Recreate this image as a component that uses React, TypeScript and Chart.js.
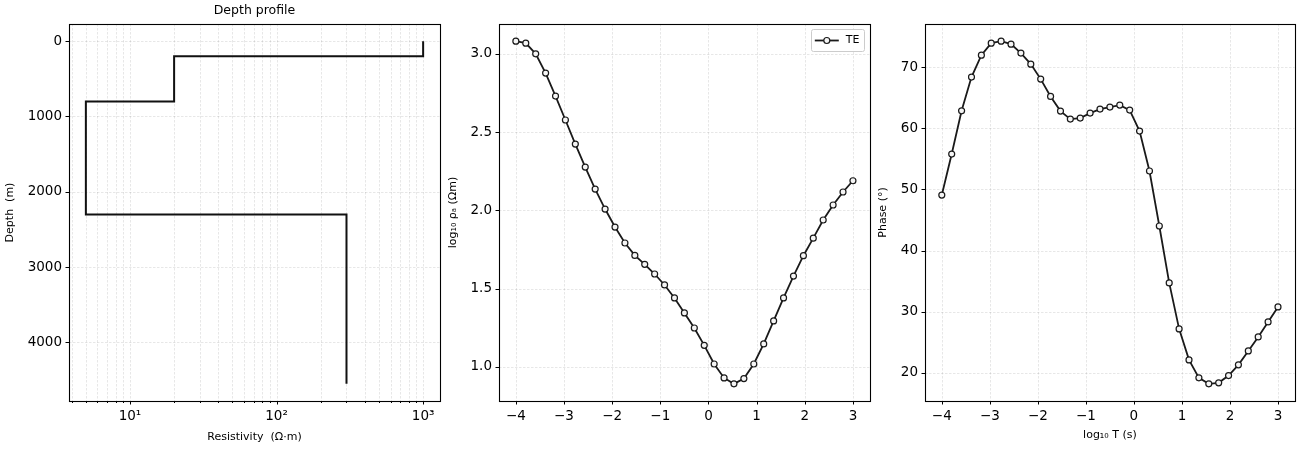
import { useEffect, useRef } from 'react';
import { Chart, registerables } from 'chart.js';

Chart.register(...registerables);

const FONT = "'DejaVu Sans', sans-serif";

// ---------- data ----------
const layerResistivity = [1000, 20, 5, 300];
const layerTopDepth = [0, 200, 800, 2300];
const modelBottomDepth = 4550;
const depthTicks = [0, 1000, 2000, 3000, 4000];
const resistivityTicks = [4, 5, 6, 7, 8, 9, 10, 20, 30, 40, 50, 60, 70, 80, 90, 100, 200, 300, 400, 500, 600, 700, 800, 900, 1000];

const logPeriod = [
  -4, -3.794, -3.588, -3.382, -3.176, -2.971, -2.765, -2.559, -2.353, -2.147, -1.941, -1.735,
  -1.529, -1.324, -1.118, -0.912, -0.706, -0.5, -0.294, -0.088, 0.118, 0.324, 0.529, 0.735,
  0.941, 1.147, 1.353, 1.559, 1.765, 1.971, 2.176, 2.382, 2.588, 2.794, 3.0,
];
const logApparentRho = [
  3.081, 3.068, 3.0, 2.877, 2.73, 2.577, 2.423, 2.276, 2.136, 2.008, 1.893, 1.791,
  1.712, 1.655, 1.593, 1.523, 1.44, 1.344, 1.248, 1.137, 1.018, 0.929, 0.891, 0.925,
  1.018, 1.146, 1.293, 1.44, 1.58, 1.71, 1.822, 1.938, 2.034, 2.117, 2.189,
];
const phaseDeg = [
  49.08, 55.78, 62.86, 68.37, 71.96, 73.92, 74.25, 73.76, 72.29, 70.49, 68.04, 65.2,
  62.81, 61.5, 61.67, 62.48, 63.14, 63.46, 63.79, 62.97, 59.54, 53.01, 44.02, 34.71,
  27.19, 22.12, 19.18, 18.2, 18.37, 19.56, 21.31, 23.59, 25.88, 28.33, 30.78,
];
const logPeriodTicks = [-4, -3, -2, -1, 0, 1, 2, 3];
const rhoTicks = [1.0, 1.5, 2.0, 2.5, 3.0];
const phaseTicks = [20, 30, 40, 50, 60, 70];

// ---------- helpers ----------
const margin = (vals: number[], frac = 0.05) => {
  const mn = Math.min(...vals);
  const mx = Math.max(...vals);
  const d = (mx - mn) * frac;
  return { min: mn - d, max: mx + d };
};
const logMargin = (vals: number[], frac = 0.05) => {
  const l = vals.map((v) => Math.log10(v));
  const m = margin(l, frac);
  return { min: Math.pow(10, m.min), max: Math.pow(10, m.max) };
};
const sup: Record<string, string> = { '0': '⁰', '1': '¹', '2': '²', '3': '³', '4': '⁴' };

const mplPlugin = {
  id: 'mpl',
  beforeDatasetsDraw(chart: any) {
    const { ctx, chartArea: a } = chart;
    ctx.save();
    ctx.beginPath();
    ctx.rect(a.left, a.top, a.right - a.left, a.bottom - a.top);
    ctx.clip();
    ctx.strokeStyle = 'rgba(0,0,0,0.12)';
    ctx.lineWidth = 0.8;
    ctx.setLineDash([2.5, 1.5]);
    for (const id of Object.keys(chart.scales)) {
      const s = chart.scales[id];
      for (const t of s.ticks) {
        const p = s.getPixelForValue(t.value);
        ctx.beginPath();
        if (s.isHorizontal()) {
          const x = Math.round(p) + 0.5;
          ctx.moveTo(x, a.top);
          ctx.lineTo(x, a.bottom);
        } else {
          const y = Math.round(p) + 0.5;
          ctx.moveTo(a.left, y);
          ctx.lineTo(a.right, y);
        }
        ctx.stroke();
      }
    }
    ctx.restore();
  },
  afterDraw(chart: any) {
    const { ctx, chartArea: a } = chart;
    const o = chart.options.plugins.mpl || {};
    ctx.save();
    // ticks
    ctx.strokeStyle = '#000';
    ctx.lineWidth = 1;
    for (const id of Object.keys(chart.scales)) {
      const s = chart.scales[id];
      const isLog = s.type === 'logarithmic';
      for (const t of s.ticks) {
        const p = s.getPixelForValue(t.value);
        const major = !isLog || Math.abs(Math.log10(t.value) - Math.round(Math.log10(t.value))) < 1e-9;
        const len = major ? 3.5 : 2;
        ctx.beginPath();
        if (s.isHorizontal()) {
          const x = Math.round(p) + 0.5;
          ctx.moveTo(x, a.bottom);
          ctx.lineTo(x, a.bottom + len);
        } else {
          const y = Math.round(p) + 0.5;
          ctx.moveTo(a.left - len, y);
          ctx.lineTo(a.left, y);
        }
        ctx.stroke();
      }
    }
    // frame
    ctx.lineWidth = 1.1;
    ctx.strokeStyle = '#000';
    ctx.strokeRect(Math.round(a.left) + 0.5, Math.round(a.top) + 0.5, Math.round(a.right - a.left), Math.round(a.bottom - a.top));
    // title
    if (o.title) {
      ctx.fillStyle = '#000';
      ctx.font = `12.5px ${FONT}`;
      ctx.textAlign = 'center';
      ctx.textBaseline = 'middle';
      ctx.fillText(o.title, (a.left + a.right) / 2, 10.5);
    }
    // legend
    if (o.legend) {
      const w = 53;
      const h = 22;
      const x0 = a.right - 6 - w;
      const y0 = a.top + 4.5;
      ctx.fillStyle = 'rgba(255,255,255,0.85)';
      ctx.strokeStyle = '#cccccc';
      ctx.lineWidth = 1;
      ctx.beginPath();
      (ctx as any).roundRect(Math.round(x0) + 0.5, Math.round(y0) + 0.5, w, h, 2);
      ctx.fill();
      ctx.stroke();
      const cy = Math.round(y0 + h / 2) + 0.5;
      ctx.strokeStyle = '#1a1a1a';
      ctx.lineWidth = 1.8;
      ctx.beginPath();
      ctx.moveTo(x0 + 4, cy);
      ctx.lineTo(x0 + 28, cy);
      ctx.stroke();
      ctx.beginPath();
      ctx.arc(x0 + 16, cy, 3, 0, Math.PI * 2);
      ctx.fillStyle = '#f5f5f5';
      ctx.fill();
      ctx.lineWidth = 1.2;
      ctx.stroke();
      ctx.fillStyle = '#000';
      ctx.font = `11px ${FONT}`;
      ctx.textAlign = 'left';
      ctx.textBaseline = 'middle';
      ctx.fillText(o.legend, x0 + 35, cy);
    }
    ctx.restore();
  },
};

const tickFont = { family: FONT, size: 13.5 };
const titleFont = { family: FONT, size: 11 };

function baseScale(ticks: number[], width: number | null, height: number | null, labelFn: (v: number) => string) {
  return {
    grid: { display: false, drawTicks: true, tickLength: 4 },
    border: { display: false },
    ticks: {
      font: tickFont,
      color: '#000',
      padding: 3,
      autoSkip: false,
      maxRotation: 0,
      minRotation: 0,
      includeBounds: false,
      callback: (v: any) => labelFn(Number(v)),
    },
    afterBuildTicks: (s: any) => {
      s.ticks = ticks.map((v) => ({ value: v }));
    },
    afterFit: (s: any) => {
      if (width !== null) s.width = width;
      if (height !== null) s.height = height;
    },
  };
}

const fmtNum = (v: number) => (v < 0 ? '\u2212' + String(Math.abs(v)) : String(v));

function ChartPanel({ left, width, build }: { left: number; width: number; build: (c: HTMLCanvasElement) => Chart }) {
  const ref = useRef<HTMLCanvasElement | null>(null);
  useEffect(() => {
    if (!ref.current) return;
    const chart = build(ref.current);
    return () => chart.destroy();
  }, []);
  return (
    <canvas
      ref={ref}
      width={width}
      height={450}
      style={{ position: 'absolute', left, top: 0, width, height: 450 }}
    />
  );
}

const X_AXIS_H = 49;
const TOP_PAD = 24;

function buildDepth(c: HTMLCanvasElement) {
  const pts: { x: number; y: number }[] = [];
  layerResistivity.forEach((r, i) => {
    const top = layerTopDepth[i];
    const bottom = i + 1 < layerTopDepth.length ? layerTopDepth[i + 1] : modelBottomDepth;
    pts.push({ x: r, y: top }, { x: r, y: bottom });
  });
  const xr = logMargin(layerResistivity);
  const yr = margin([0, modelBottomDepth]);
  const xs: any = baseScale(resistivityTicks, null, X_AXIS_H, (v) => {
    const l = Math.log10(v);
    if (Math.abs(l - Math.round(l)) < 1e-9) return '10' + sup[String(Math.round(l))];
    return '';
  });
  xs.type = 'logarithmic';
  xs.min = xr.min;
  xs.max = xr.max;
  xs.title = { display: true, text: 'Resistivity  (Ω·m)', font: titleFont, color: '#000', padding: { top: 0, bottom: 6 } };
  const ys: any = baseScale(depthTicks, 69, null, (v) => String(v));
  ys.type = 'linear';
  ys.reverse = true;
  ys.min = yr.min;
  ys.max = yr.max;
  ys.title = { display: true, text: 'Depth  (m)', font: titleFont, color: '#000', padding: { top: 4, bottom: 0 } };
  return new Chart(c, {
    type: 'line',
    data: {
      datasets: [
        {
          data: pts,
          borderColor: '#111111',
          borderWidth: 2,
          pointRadius: 0,
          fill: false,
          tension: 0,
        },
      ],
    },
    options: {
      responsive: false,
      animation: false,
      devicePixelRatio: 1,
      layout: { padding: { top: TOP_PAD, right: 5, left: 0, bottom: 0 } },
      plugins: { legend: { display: false }, tooltip: { enabled: false }, mpl: { title: 'Depth profile' } } as any,
      scales: { x: xs, y: ys },
    },
    plugins: [mplPlugin],
  } as any);
}

function buildSeries(
  c: HTMLCanvasElement,
  values: number[],
  yTicks: number[],
  yLabel: string,
  xLabel: string | null,
  yw: number,
  padRight: number,
  yFmt: (v: number) => string,
  legend: string | null
) {
  const xr = margin(logPeriod);
  const yr = margin(values);
  const xs: any = baseScale(logPeriodTicks, null, X_AXIS_H, fmtNum);
  xs.type = 'linear';
  xs.min = xr.min;
  xs.max = xr.max;
  if (xLabel) xs.title = { display: true, text: xLabel, font: titleFont, color: '#000', padding: { top: 0, bottom: 8 } };
  const ys: any = baseScale(yTicks, yw, null, yFmt);
  ys.type = 'linear';
  ys.min = yr.min;
  ys.max = yr.max;
  ys.title = { display: true, text: yLabel, font: titleFont, color: '#000', padding: { top: 4, bottom: 0 } };
  return new Chart(c, {
    type: 'line',
    data: {
      datasets: [
        {
          label: 'TE',
          data: logPeriod.map((x, i) => ({ x, y: values[i] })),
          borderColor: '#1a1a1a',
          borderWidth: 1.8,
          pointRadius: 3,
          pointBorderWidth: 1.2,
          pointBackgroundColor: '#f5f5f5',
          pointBorderColor: '#1a1a1a',
          fill: false,
          tension: 0,
        },
      ],
    },
    options: {
      responsive: false,
      animation: false,
      devicePixelRatio: 1,
      layout: { padding: { top: TOP_PAD, right: padRight, left: 0, bottom: 0 } },
      plugins: { legend: { display: false }, tooltip: { enabled: false }, mpl: { legend } } as any,
      scales: { x: xs, y: ys },
    },
    plugins: [mplPlugin],
  } as any);
}

export default function App() {
  return (
    <div style={{ position: 'fixed', left: 0, top: 0, width: 1300, height: 450, background: '#fff' }}>
      <ChartPanel left={0} width={445} build={buildDepth} />
      <ChartPanel
        left={443}
        width={432}
        build={(c) =>
          buildSeries(c, logApparentRho, rhoTicks, 'log₁₀ ρₐ (Ωm)', null, 56, 5, (v) => v.toFixed(1), 'TE')
        }
      />
      <ChartPanel
        left={873}
        width={427}
        build={(c) =>
          buildSeries(c, phaseDeg, phaseTicks, 'Phase (°)', 'log₁₀ T (s)', 52, 4, (v) => String(v), null)
        }
      />
    </div>
  );
}
